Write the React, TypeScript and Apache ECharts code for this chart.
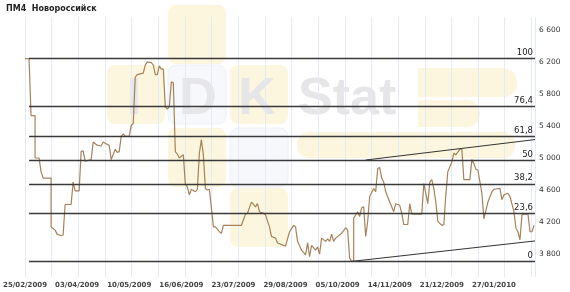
import React, { useEffect, useRef } from 'react';
import * as echarts from 'echarts';

const title = 'ПМ4  Новороссийск';
const dateLabels = [
  '25/02/2009', '03/04/2009', '10/05/2009', '16/06/2009', '23/07/2009',
  '29/08/2009', '05/10/2009', '14/11/2009', '21/12/2009', '27/01/2010',
];
const steps = [
  0, 2, 3, 5, 5, 7, 8, 9, 13, 13, 15, 16, 18, 19, 20, 23, 24, 25, 27, 28, 29, 30, 33, 34, 36, 38, 39, 41, 42, 43,
  45, 46, 47, 48, 49, 50, 52, 53, 54, 55, 56, 59, 60, 61, 63, 64, 65, 66, 67, 68, 69, 70, 71, 72, 73, 74, 75, 76, 77, 79,
  80, 81, 82, 83, 85, 86, 87, 88, 89, 90, 91, 92, 94, 95, 97, 98, 99, 108, 110, 111, 113, 114, 115, 116, 117, 119, 120, 122, 123, 125,
  126, 129, 130, 132, 134, 135, 136, 138, 140, 141, 142, 143, 145, 146, 147, 148, 150, 151, 152, 153, 154, 155, 158, 160, 161, 162, 163, 164, 164, 166,
  167, 168, 169, 170, 171, 172, 174, 175, 176, 177, 178, 179, 180, 182, 184, 185, 187, 188, 189, 191, 192, 193, 198, 199, 200, 201, 202, 203, 204, 205,
  206, 208, 209, 210, 211, 213, 214, 215, 217, 218, 219, 222, 223, 224, 225, 226, 228, 229, 231, 233, 234, 237, 238, 239, 241, 242, 244, 245, 246, 247,
  248, 249, 251, 252, 253, 254,
];
const prices = [
  6230, 6230, 5520, 5520, 4990, 4990, 4820, 4740, 4740, 4130, 4090, 4040, 4020, 4030, 4410, 4410, 4690, 4580, 4580, 5070, 5080, 4950, 4970, 5190, 5150, 5140, 5190, 5160, 5150, 4970,
  5100, 5060, 5070, 5260, 5290, 5260, 5260, 5400, 5420, 6000, 6030, 6050, 6150, 6190, 6180, 6150, 6030, 6030, 6140, 6100, 6100, 5630, 5600, 5630, 5940, 5930, 5070, 5040, 4990, 5030,
  4660, 4630, 4530, 4600, 4570, 4600, 5050, 5220, 5030, 4610, 4590, 4600, 4130, 4130, 4070, 4050, 4150, 4150, 4290, 4300, 4440, 4410, 4380, 4420, 4320, 4300, 4280, 4130, 4010, 3990,
  3930, 3900, 3890, 4070, 4150, 4130, 3950, 3840, 3780, 3930, 3760, 3900, 3840, 3880, 3790, 3990, 3950, 3980, 3950, 4040, 3950, 3990, 4050, 4120, 4090, 3740, 3700, 3700, 4240, 4320,
  4260, 4370, 4380, 4010, 4200, 4510, 4610, 4570, 4860, 4870, 4740, 4690, 4570, 4440, 4320, 4420, 4400, 4300, 4160, 4160, 4420, 4290, 4290, 4670, 4550, 4420, 4690, 4720, 4610, 4440,
  4200, 4150, 4160, 4530, 4820, 4940, 5050, 5030, 5100, 5100, 4720, 4720, 4970, 4920, 4850, 4840, 4550, 4230, 4440, 4570, 4600, 4610, 4470, 4530, 4550, 4510, 4320, 4110, 4070, 3970,
  4280, 4290, 4290, 4070, 4070, 4150,
];
const fibLevels = [100, 76.4, 61.8, 50, 38.2, 23.6, 0];
const trendLowSteps = [163, 254.5];
const trendLowPrices = [3700, 3955];
const trendHighSteps = [170, 254.5];
const trendHighPrices = [4965, 5220];

const X_MAX = 254.5;
const FONT = 'DejaVu Sans';

function fmtThousands(v: number) {
  return String(Math.round(v)).replace(/\B(?=(\d{3})+(?!\d))/g, ' ');
}

export default function App() {
  const ref = useRef<HTMLDivElement>(null);
  useEffect(() => {
    if (!ref.current) return;
    const chart = echarts.init(ref.current, null, { renderer: 'svg' });
    const high = Math.max(...prices);
    const low = Math.min(...prices);
    const fibStart = steps[prices.lastIndexOf(high)];
    const markData = fibLevels.map((p) => {
      const v = low + ((high - low) * p) / 100;
      const name = String(p).replace('.', ',');
      return [
        { name, coord: [fibStart, v] },
        { name, coord: [X_MAX, v] },
      ];
    });
    const yellow = '#fdf6de';
    const pale = '#f6f8fc';
    const sq = (x: number, y: number, fill: string) => ({
      type: 'rect', z: -10, silent: true,
      shape: { x, y, width: 58, height: 59, r: 8 },
      style: { fill },
    });
    const letter = (text: string, x: number, align: string) => ({
      type: 'text', z: -5, silent: true, x, y: 96,
      style: {
        text, fill: '#e6e6e8', font: 'bold 52px "Liberation Sans"',
        textAlign: align, textVerticalAlign: 'middle', verticalAlign: 'middle',
      },
    });
    chart.setOption({
      animation: false,
      grid: [
        { left: 25, right: 35, top: 17, bottom: 15 },
        { left: 25, right: 35, top: 29, bottom: 38.7 },
      ],
      graphic: [
        sq(168, 5, yellow),
        sq(107, 65, yellow),
        { ...sq(168, 65, pale), style: { fill: pale, stroke: '#eef0f6', lineWidth: 1 } },
        sq(230, 65, yellow),
        sq(168, 128, yellow),
        { ...sq(230, 128, pale), style: { fill: pale, stroke: '#eef0f6', lineWidth: 1 } },
        sq(230, 188, yellow),
        { type: 'rect', z: -10, silent: true, shape: { x: 418, y: 68, width: 99, height: 29, r: [0, 14, 14, 0] }, style: { fill: yellow } },
        { type: 'rect', z: -10, silent: true, shape: { x: 418, y: 100, width: 62, height: 27, r: [0, 13, 13, 0] }, style: { fill: yellow } },
        { type: 'rect', z: -10, silent: true, shape: { x: 297, y: 132, width: 218, height: 26, r: 12 }, style: { fill: yellow } },
        letter('I', 134, 'center'),
        letter('D', 198, 'center'),
        letter('K', 257, 'center'),
        letter('Stat', 298, 'left'),
        {
          type: 'text', left: 6, top: 4, silent: true,
          style: { text: title, fill: '#222', font: `bold 8px "${FONT}"` },
        },
      ],
      xAxis: [
        {
          type: 'value', gridIndex: 0, min: 0, max: X_MAX, interval: 26,
          axisLine: { show: false }, axisTick: { show: false }, splitLine: { show: false },
          axisLabel: {
            fontFamily: FONT, fontSize: 7, fontWeight: 'bold', color: '#444', margin: 4,
            showMaxLabel: false,
            formatter: (v: number) => {
              const i = v / 26;
              return Number.isInteger(i) && dateLabels[i] ? dateLabels[i] : '';
            },
          },
        },
        {
          type: 'value', gridIndex: 0, min: 0, max: X_MAX, interval: 13.3,
          axisLine: { show: false }, axisTick: { show: false }, axisLabel: { show: false },
          splitLine: { show: true, lineStyle: { color: '#e2ebf6', width: 1 } },
        },
        { type: 'value', gridIndex: 1, show: false, min: 0, max: 1 },
      ],
      yAxis: [
        { type: 'value', gridIndex: 0, min: 3505, max: 6750, show: false, splitLine: { show: false } },
        {
          type: 'value', gridIndex: 1, position: 'right', min: 3800, max: 6600, interval: 400,
          axisLine: { show: false }, axisTick: { show: false }, splitLine: { show: false },
          axisLabel: { fontFamily: FONT, fontSize: 7.5, color: '#333', margin: 4, formatter: fmtThousands },
        },
      ],
      series: [
        {
          type: 'line', xAxisIndex: 0, yAxisIndex: 0, showSymbol: false, silent: true,
          data: steps.map((s, i) => [s, prices[i]]),
          lineStyle: { color: '#a58259', width: 1.2 },
          markLine: {
            silent: true, symbol: ['none', 'none'],
            lineStyle: { color: '#3a3a3a', width: 1.3, type: 'solid' },
            label: {
              show: true, position: 'insideEndTop', distance: 2,
              fontFamily: FONT, fontSize: 8.5, color: '#222',
              formatter: (p: any) => p.name,
            },
            emphasis: { disabled: true },
            data: markData,
          },
          z: 3,
        },
        {
          type: 'line', xAxisIndex: 0, yAxisIndex: 0, showSymbol: false, silent: true,
          data: trendLowSteps.map((s, i) => [s, trendLowPrices[i]]),
          lineStyle: { color: '#333', width: 1 },
        },
        {
          type: 'line', xAxisIndex: 0, yAxisIndex: 0, showSymbol: false, silent: true,
          data: trendHighSteps.map((s, i) => [s, trendHighPrices[i]]),
          lineStyle: { color: '#333', width: 1 },
        },
      ],
    });
    return () => chart.dispose();
  }, []);
  return <div ref={ref} style={{ position: 'fixed', left: 0, top: 0, width: 570, height: 292 }} />;
}
